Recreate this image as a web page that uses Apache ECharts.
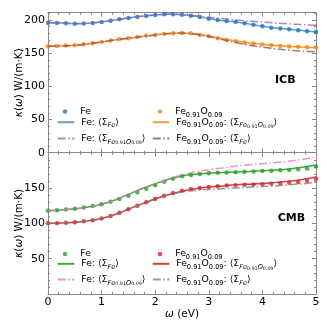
<!DOCTYPE html>
<html><head><meta charset="utf-8">
<script src="https://cdn.jsdelivr.net/npm/echarts@6/dist/echarts.min.js"></script>
<style>html,body{margin:0;padding:0;background:#fff}#c{width:332px;height:332px}</style>
</head><body><div id="c"></div>
<script>
// ---- data ----
var lineX = [0,0.25,0.5,0.75,1,1.25,1.5,1.75,2,2.25,2.5,2.75,3,3.25,3.5,3.75,4,4.25,4.5,4.75,5];
var dotX = [0,0.167,0.333,0.5,0.667,0.833,1,1.167,1.333,1.5,1.667,1.833,2,2.167,2.333,2.5,2.667,2.833,3,3.167,3.333,3.5,3.667,3.833,4,4.167,4.333,4.5,4.667,4.833,5];

// ICB
var icbFeDots = [196,195.5,195,194.5,194.7,195.5,197,199,201,203,204.5,206,207.5,208.5,208.5,208,206.5,204.5,202,200,198.5,197,195,193,190.5,188.5,187,186,184.5,183,182];
var icbFeOwn  = [196,195.5,194.5,195,197,200,203,205.5,207.5,208.5,208,205.5,202,199,197,194,190.5,188,186,184,182];
var icbFeOth  = [196,195.5,194.5,195,197,200,203,205.5,207.5,208.5,208.2,206.5,204,202,200,198.5,197,195.5,194,193,192];
var icbFeODots = [160.5,160.7,161.5,162,163.3,165,167,169,171,172.5,174.5,176.5,177.5,179,180,180.5,180,177.5,175.5,172.5,170,168,166,164.5,163,162,161,160,159.5,159,158.5];
var icbFeOOwn = [160.5,161,162,164,167,170,172.5,175,177.5,179.5,180.5,179,176,172,168.5,165.5,163.5,161.5,160,159,158.5];
var icbFeOOth = [160.5,161,162,164,167,170,172.5,175,177.5,179.5,180.3,178.5,175,170.5,166,162,159,156.5,154.5,153,152];

// CMB
var cmbFeDots = [118,118.5,119.5,120.5,122.5,124.5,127,130.5,134.5,139,144,149,154,159,163,166.5,168.5,170,171,171.5,172,172.5,173,173.3,174,174.5,175,175.5,176.5,177.5,180.5];
var cmbFeOwn  = [118,119,120.5,123,127,133,141,149,156,162.5,167,169.5,171,172,172.7,173.5,174.5,175.5,177,179.5,182.5];
var cmbFeOth  = [118,119,120.5,123,127,133,141,149,156,162.8,168.5,173,176,178.5,181,183,184.5,186,188,190.5,194];
var cmbFeODots = [100,100.2,100.8,101.5,102.8,104.5,107,110.5,115,120,125,130,134.5,139,143,146,148.5,150,151.5,152.5,153.5,154,154.5,155,155.5,156,156.5,157.5,158.5,160,163];
var cmbFeOOwn = [100,100.5,101.5,103.5,107,112.5,120,127.5,134.5,140.5,145.5,149,151.5,153,154.5,155.5,156.5,158,159.5,162,165.5];
var cmbFeOOth = [100,100.5,101.5,103.5,107,112.5,120,127.5,134.5,140.3,144.5,146.5,148,149,150,151,152,153,154.5,156,158];

var xTicks = [0,1,2,3,4,5];
var yTicksTop = [0,50,100,150,200];
var yTicksBot = [50,100,150];

// ---- build ----
function pairs(xs, ys){ return ys.map(function(v,i){ return [xs[i], v]; }); }
var FONT = 'DejaVu Sans';
var DD = [8,2.5,1.5,2.5];
var AX = '#888';

function dots(name, data, color, g){
  return {name:name, type:'scatter', xAxisIndex:g*2, yAxisIndex:g*2, data:pairs(dotX,data),
    symbol:'circle', symbolSize:4.5, itemStyle:{color:color}, z:3, silent:true};
}
function line(name, data, color, dash, g, op){
  return {name:name, type:'line', xAxisIndex:g*2, yAxisIndex:g*2, data:pairs(lineX,data),
    smooth:0.35, symbol:'none', lineStyle:{color:color, width:1.5, type:dash?DD:'solid', opacity:op},
    itemStyle:{color:color}, z:dash?4:2, silent:true};
}

var series = [
  dots('icbFe', icbFeDots, '#1f77b4', 0),
  line('icbFeOwn', icbFeOwn, '#1f77b4', false, 0, 0.7),
  line('icbFeOth', icbFeOth, '#9467bd', true, 0, 0.8),
  dots('icbFeO', icbFeODots, '#ff7f0e', 0),
  line('icbFeOOwn', icbFeOOwn, '#ff7f0e', false, 0, 0.8),
  line('icbFeOOth', icbFeOOth, '#8c564b', true, 0, 0.8),
  dots('cmbFe', cmbFeDots, '#2ca02c', 1),
  line('cmbFeOwn', cmbFeOwn, '#2ca02c', false, 1, 0.9),
  line('cmbFeOth', cmbFeOth, '#e377c2', true, 1, 0.8),
  dots('cmbFeO', cmbFeODots, '#d62728', 1),
  line('cmbFeOOwn', cmbFeOOwn, '#d62728', false, 1, 0.9),
  line('cmbFeOOth', cmbFeOOth, '#7f7f7f', true, 1, 0.8)
];

var txtFe = '{q|}{n|Fe}';
var txtFeO = '{q|}{n|Fe}{s|0.91}{n|O}{s|0.09}';
var txtFeOwn = '{p|}{n|Fe: ⟨Σ}{si|Fe}{n|⟩}';
var txtFeOth = '{p|}{n|Fe: ⟨Σ}{si|Fe}{ss|0.91}{si|O}{ss|0.09}{n|⟩}';
var txtFeOOwn = '{p|}{n|Fe}{s|0.91}{n|O}{s|0.09}{n|: ⟨Σ}{si|Fe}{ss|0.91}{si|O}{ss|0.09}{n|⟩}';
var txtFeOOth = '{p|}{n|Fe}{s|0.91}{n|O}{s|0.09}{n|: ⟨Σ}{si|Fe}{n|⟩}';
var labelText = {
  icbFe:txtFe, icbFeOwn:txtFeOwn, icbFeOth:txtFeOth, icbFeO:txtFeO, icbFeOOwn:txtFeOOwn, icbFeOOth:txtFeOOth,
  cmbFe:txtFe, cmbFeOwn:txtFeOwn, cmbFeOth:txtFeOth, cmbFeO:txtFeO, cmbFeOOwn:txtFeOOwn, cmbFeOOth:txtFeOOth
};
var rich = {
  p:{width:2},
  q:{width:2},
  n:{fontFamily:FONT, fontSize:9.3, color:'#000', lineHeight:14},
  s:{fontFamily:FONT, fontSize:6.6, color:'#000', lineHeight:8, verticalAlign:'bottom'},
  si:{fontFamily:FONT, fontSize:6.6, fontStyle:'italic', color:'#000', lineHeight:8, verticalAlign:'bottom'},
  ss:{fontFamily:FONT, fontSize:4.8, color:'#000', lineHeight:4, verticalAlign:'bottom'}
};
// legend placement: [name, left, rowCenterY, isDot]
var legendPlaces = [
  ['icbFe', 56.7, 109.3, true], ['icbFeOwn', 56.7, 122.7, false], ['icbFeOth', 56.7, 139, false],
  ['icbFeO', 151.7, 109.3, true], ['icbFeOOwn', 151.7, 122.7, false], ['icbFeOOth', 151.7, 139, false],
  ['cmbFe', 56.7, 251.7, true], ['cmbFeOwn', 56.7, 264.3, false], ['cmbFeOth', 56.7, 280, false],
  ['cmbFeO', 151.7, 251.7, true], ['cmbFeOOwn', 151.7, 264.3, false], ['cmbFeOOth', 151.7, 280, false]
];
var HW = 16.6, DS = 4.5;
var legends = legendPlaces.map(function(p){
  if (p[3]) {
    return {show:true, data:[p[0]], left:p[1] + HW/2 - DS/2, top:p[2]-DS/2, orient:'vertical', padding:0,
      itemWidth:DS, itemHeight:DS, selectedMode:false,
      formatter:function(n){ return labelText[n]; },
      textStyle:{rich:Object.assign({}, rich, {q:{width:HW/2 - DS/2 + 2}}), fontFamily:FONT, fontSize:9.3, color:'#000'}};
  }
  var h = 10;
  return {show:true, data:[p[0]], left:p[1], top:p[2]-h/2, orient:'vertical', padding:0,
    itemWidth:HW, itemHeight:h, selectedMode:false,
    itemStyle:{opacity:0},
    formatter:function(n){ return labelText[n]; },
    textStyle:{rich:rich, fontFamily:FONT, fontSize:9.3, color:'#000'}};
});

function xAx(grid, pos, showLabels, name){
  return {type:'value', gridIndex:grid, position:pos, min:0, max:5, interval:1,
    axisLine:{show:true, onZero:false, lineStyle:{color:AX, width:1}},
    axisTick:{show:true, inside:true, length:4, lineStyle:{color:AX}},
    minorTick:{show:true, splitNumber:5, length:2, lineStyle:{color:AX}},
    splitLine:{show:false},
    axisLabel:{show:showLabels, fontFamily:FONT, fontSize:11, color:'#000', margin:3,
      formatter:function(v){ return xTicks.indexOf(v) >= 0 ? String(v) : ''; }},
    name:name||'', nameLocation:'middle', nameGap:15, nameMoveOverlap:false,
    nameTextStyle:{fontFamily:FONT, fontSize:10.5, color:'#000',
      rich:{i:{fontFamily:FONT, fontSize:10.5, fontStyle:'italic', color:'#000'}, n:{fontFamily:FONT, fontSize:10.5, color:'#000'}}}
  };
}
function yAx(grid, pos, max, ticks, showLabels, name){
  return {type:'value', gridIndex:grid, position:pos, min:0, max:max, interval:50,
    axisLine:{show:true, onZero:false, lineStyle:{color:AX, width:1}},
    axisTick:{show:true, inside:true, length:4, lineStyle:{color:AX}},
    minorTick:{show:true, splitNumber:5, length:2, lineStyle:{color:AX}},
    splitLine:{show:false},
    axisLabel:{show:showLabels, fontFamily:FONT, fontSize:11, color:'#000', margin:3,
      showMinLabel:true, showMaxLabel:false,
      formatter:function(v){ return ticks.indexOf(v) >= 0 ? String(v) : ''; }},
    name:name||'', nameLocation:'middle', nameGap:23, nameRotate:90, nameMoveOverlap:false,
    nameTextStyle:{fontFamily:FONT, fontSize:10.5, color:'#000',
      rich:{i:{fontFamily:FONT, fontSize:10.5, fontStyle:'italic', color:'#000'}, n:{fontFamily:FONT, fontSize:10.5, color:'#000'}}}
  };
}
var yName = '{i|κ}{n|(}{i|ω}{n|) W/(m·K)}';

var option = {
  animation:false,
  backgroundColor:'#fff',
  grid:[
    {left:48, top:12.7, width:268, height:140, outerBoundsMode:'none', containLabel:false},
    {left:48, top:152.7, width:268, height:141.3, outerBoundsMode:'none', containLabel:false}
  ],
  xAxis:[ xAx(0,'bottom',false), xAx(0,'top',false), xAx(1,'bottom',true,'{i|ω}{n| (eV)}'), xAx(1,'top',false) ],
  yAxis:[ yAx(0,'left',211,yTicksTop,true,yName), yAx(0,'right',211,yTicksTop,false),
          yAx(1,'left',200,yTicksBot,true,yName), yAx(1,'right',200,yTicksBot,false) ],
  legend:legends,
  series:series,
  graphic:[
    {type:'text', left:285-10, top:82-7, style:{text:'ICB', fontFamily:FONT, fontSize:11, fontWeight:'bold', fill:'#000'}},
    {type:'text', left:288.7-11, top:220-7, style:{text:'CMB', fontFamily:FONT, fontSize:11, fontWeight:'bold', fill:'#000'}}
  ]
};
var chart = echarts.init(document.getElementById('c'), null, {renderer:'canvas'});
chart.setOption(option);
</script></body></html>
